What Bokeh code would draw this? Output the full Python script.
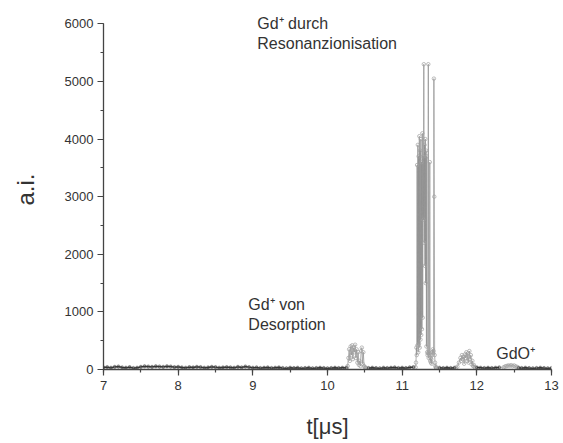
from bokeh.plotting import figure
from bokeh.models import Range1d, Label, SingleIntervalTicker, ColumnDataSource
from bokeh.embed import file_html
from bokeh.resources import INLINE

# ---- data ----
t_base_a = [7.00, 7.05, 7.10, 7.15, 7.20, 7.25, 7.30, 7.35, 7.40, 7.45, 7.50, 7.55, 7.60, 7.65,
            7.70, 7.75, 7.80, 7.85, 7.90, 7.95, 8.00, 8.05, 8.10, 8.15, 8.20, 8.25, 8.30, 8.35,
            8.40, 8.45, 8.50, 8.55, 8.60, 8.65, 8.70, 8.75, 8.80, 8.85, 8.90, 8.95, 9.00, 9.05,
            9.10, 9.15, 9.20, 9.25, 9.30, 9.35, 9.40, 9.45, 9.50, 9.55, 9.60, 9.65, 9.70, 9.75,
            9.80, 9.85, 9.90, 9.95, 10.00, 10.05, 10.10, 10.15, 10.20, 10.25]
y_base_a = [35, 40, 30, 45, 50, 35, 30, 40, 25, 30, 45, 55, 50, 45,
            55, 50, 45, 55, 50, 40, 45, 35, 30, 40, 35, 45, 40, 30,
            35, 45, 40, 30, 35, 40, 35, 30, 45, 35, 50, 40, 30, 35,
            25, 30, 35, 25, 30, 35, 25, 20, 30, 25, 30, 20, 25, 30,
            20, 25, 30, 25, 20, 25, 30, 25, 30, 28]

t_desorption = [10.26, 10.27, 10.28, 10.29, 10.30, 10.31, 10.32, 10.33, 10.34, 10.35, 10.36,
                10.37, 10.38, 10.39, 10.40, 10.41, 10.42, 10.43, 10.44, 10.45, 10.46, 10.47,
                10.48, 10.49, 10.50, 10.51, 10.52]
y_desorption = [30, 60, 200, 350, 150, 400, 250, 420, 180, 380, 300,
                430, 200, 350, 120, 300, 80, 150, 60, 320, 380, 100,
                300, 60, 40, 30, 25]

t_base_b = [10.55, 10.60, 10.65, 10.70, 10.75, 10.80, 10.85, 10.90, 10.95, 11.00, 11.05,
            11.10, 11.15]
y_base_b = [25, 30, 25, 20, 30, 25, 30, 35, 25, 30, 25, 35, 40]

t_resonance = [11.180, 11.185, 11.190, 11.195, 11.200, 11.205, 11.210, 11.215, 11.220, 11.225,
               11.230, 11.235, 11.240, 11.245, 11.250, 11.255, 11.260, 11.265, 11.270, 11.275,
               11.280, 11.285, 11.290, 11.295, 11.300, 11.305, 11.310, 11.315, 11.320, 11.325,
               11.330, 11.335, 11.340, 11.345, 11.350, 11.355, 11.360, 11.365, 11.370, 11.375,
               11.380, 11.385, 11.390, 11.395, 11.400, 11.405, 11.410, 11.415, 11.420, 11.425,
               11.430, 11.435, 11.440, 11.445, 11.450, 11.455, 11.460]
y_resonance = [40, 120, 380, 250, 3550, 420, 3900, 300, 3700, 450,
               4050, 380, 3800, 520, 4000, 600, 3600, 700, 4100, 900,
               3700, 2600, 5300, 2200, 3900, 1800, 4000, 1500, 3800, 400,
               3700, 300, 250, 280, 5300, 200, 300, 250, 3600, 150,
               200, 120, 180, 100, 250, 300, 350, 280, 320, 5050,
               3000, 250, 120, 60, 40, 30, 25]

t_base_c = [11.50, 11.55, 11.60, 11.65, 11.70]
y_base_c = [30, 25, 30, 25, 30]

t_gdo = [11.72, 11.74, 11.76, 11.78, 11.79, 11.80, 11.81, 11.82, 11.83, 11.84, 11.85, 11.86,
         11.87, 11.88, 11.89, 11.90, 11.91, 11.92, 11.93, 11.94, 11.95, 11.96, 11.97, 11.98]
y_gdo = [30, 50, 120, 200, 150, 250, 180, 220, 100, 260, 200, 300,
         150, 280, 120, 320, 180, 250, 90, 150, 60, 80, 40, 30]

t_base_d = [12.00, 12.05, 12.10, 12.15, 12.20, 12.25, 12.30]
y_base_d = [35, 30, 25, 30, 25, 30, 35]

t_bump = [12.36, 12.38, 12.40, 12.42, 12.44, 12.46, 12.48, 12.50, 12.52, 12.54]
y_bump = [40, 55, 60, 70, 65, 75, 60, 70, 55, 45]

t_base_e = [12.56, 12.60, 12.65, 12.70, 12.75, 12.80, 12.85, 12.90, 12.95, 13.00]
y_base_e = [30, 25, 30, 25, 20, 25, 30, 25, 20, 25]

x_label = "t[μs]"
y_label = "a.i."

t_all = t_base_a + t_desorption + t_base_b + t_resonance + t_base_c + t_gdo + t_base_d + t_bump + t_base_e
y_all = y_base_a + y_desorption + y_base_b + y_resonance + y_base_c + y_gdo + y_base_d + y_bump + y_base_e
src = ColumnDataSource(dict(t=t_all, y=y_all))

FONT = "Liberation Sans"
TXT = "#333333"
AX = "#444444"

p = figure(width=560, height=441, output_backend="svg", toolbar_location=None,
           x_range=Range1d(7, 13), y_range=Range1d(0, 6250),
           min_border_left=103, min_border_right=9, min_border_top=9, min_border_bottom=71)
p.outline_line_color = None
p.xgrid.grid_line_color = None
p.ygrid.grid_line_color = None
p.background_fill_color = "white"
p.border_fill_color = "white"

# whole trace: light grey line with open circles
p.line("t", "y", source=src, line_color="#8c8c8c", line_width=0.7)
p.scatter("t", "y", source=src, marker="circle", size=3.5, line_color="#a0a0a0",
          line_width=0.7, fill_color=None)

# dense baseline appears dark
for tb, yb in ((t_base_a, y_base_a), (t_base_b, y_base_b), (t_base_c, y_base_c),
               (t_base_d, y_base_d), (t_base_e, y_base_e)):
    p.line(tb, yb, line_color="#3a3a3a", line_width=1.3)
    p.scatter(tb, yb, marker="circle", size=2.5, line_color="#333333", line_width=0.6,
              fill_color=None)

p.xaxis.ticker = SingleIntervalTicker(interval=1, num_minor_ticks=2)
p.yaxis.ticker = SingleIntervalTicker(interval=1000, num_minor_ticks=2)
p.yaxis.bounds = (0, 6000)

for ax in (p.xaxis[0], p.yaxis[0]):
    ax.axis_line_color = AX
    ax.axis_line_width = 1.3
    ax.major_tick_line_color = AX
    ax.minor_tick_line_color = AX
    ax.major_tick_line_width = 1.2
    ax.minor_tick_line_width = 1.2
    ax.major_tick_in = 0
    ax.major_tick_out = 6
    ax.minor_tick_in = 0
    ax.minor_tick_out = 3
    ax.major_label_text_font = FONT
    ax.major_label_text_font_size = "13px"
    ax.major_label_text_color = TXT
    ax.axis_label_text_font = FONT
    ax.axis_label_text_font_style = "normal"
    ax.axis_label_text_color = TXT

p.xaxis.axis_label = x_label
p.xaxis.axis_label_text_font_size = "22px"
p.xaxis.major_label_standoff = 5
p.xaxis.axis_label_standoff = 21

p.yaxis.axis_label = y_label
p.yaxis.axis_label_text_font_size = "24px"
p.yaxis.major_label_standoff = 4
p.yaxis.axis_label_standoff = 23

def add_text(x, y, s):
    p.add_layout(Label(x=x, y=y, text=s, text_font=FONT, text_font_size="16px",
                       text_color=TXT, text_baseline="middle", text_align="left"))

add_text(9.06, 6010, "Gd⁺ durch")
add_text(9.06, 5665, "Resonanzionisation")
add_text(8.94, 1125, "Gd⁺ von")
add_text(8.94, 780, "Desorption")
add_text(12.26, 277, "GdO⁺")

open("out.html", "w").write(file_html(p, INLINE))
